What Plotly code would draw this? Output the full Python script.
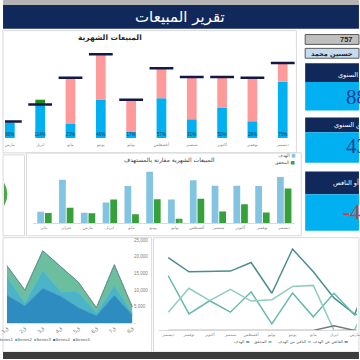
import plotly.graph_objects as go

# ---------------- data ----------------
months = ["يناير", "فبراير", "مارس", "ابريل", "مايو", "يونيو",
          "يوليو", "أغسطس", "سبتمبر", "أكتوبر", "نوفمبر", "ديسمبر"]
target = [2500, 9600, 2250, 4550, 8200, 11400, 5200, 9500, 8300, 8300, 8200, 10200]
actual = [2200, 3350, 2150, 5200, 1900, 5250, 900, 5400, 2550, 4150, 2300, 7650]

area_labels = ["ق1", "ق2", "ق3", "ق4", "ق5", "ق6", "ق7", "ق8"]
series1 = [8500, 5300, 10600, 8200, 4700, 2350, 8500, 2650]
series2 = [5600, 900, 5300, 1500, 4700, 900, 2900, 600]
series3 = [3200, 3800, 5900, 7350, 2950, 1450, 6200, 1750]
series4 = [0, 0, 0, 0, 0, 0, 0, 0]
series5 = [0, 0, 0, 0, 0, 0, 0, 0]
area_tickvals = [0, 5000, 10000, 15000, 20000, 25000]
area_ticktext = ["-", "5,000", "10,000", "15,000", "20,000", "25,000"]

employee_id = "757"
employee_name = "حسنين محمد"

# ---------------- helpers ----------------
W = H = 360
def X(px):
    return px / W
def Y(py):
    return 1 - py / H

AR = "DejaVu Sans"
NAVY = "#10295a"
BLUE = "#00b0f0"

base_blue = [min(a, t) for a, t in zip(actual, target)]
pink = [max(t - a, 0) for a, t in zip(actual, target)]
green_ex = [max(a - t, 0) for a, t in zip(actual, target)]
pct = [f"{round(a / t * 100)}%" for a, t in zip(actual, target)]
remaining = [max(t - a, 0) for a, t in zip(actual, target)]
surplus = [max(a - t, 0) for a, t in zip(actual, target)]

fig = go.Figure()

# ---- top chart: monthly sales stacked vs target ----
fig.add_trace(go.Bar(x=months, y=base_blue, base=[0] * 12, width=0.32,
                     marker=dict(color=BLUE, line=dict(width=0)),
                     xaxis="x", yaxis="y", showlegend=False, hoverinfo="skip"))
fig.add_trace(go.Bar(x=months, y=pink, base=base_blue, width=0.32,
                     marker=dict(color="#ff9a9a", line=dict(width=0)),
                     xaxis="x", yaxis="y", showlegend=False, hoverinfo="skip"))
fig.add_trace(go.Bar(x=months, y=green_ex, base=target, width=0.32,
                     marker=dict(color="#1e8a1e", line=dict(width=0)),
                     xaxis="x", yaxis="y", showlegend=False, hoverinfo="skip"))
fig.add_trace(go.Scatter(x=months, y=target, mode="markers",
                         marker=dict(symbol="line-ew", size=17,
                                     line=dict(width=2.5, color="#121a44")),
                         xaxis="x", yaxis="y", showlegend=False, hoverinfo="skip"))
fig.add_trace(go.Scatter(x=months, y=[470] * 12, mode="text", text=pct,
                         textfont=dict(size=4.5, color="#1f3864", family="Arial"),
                         xaxis="x", yaxis="y", showlegend=False, hoverinfo="skip"))

# ---- middle chart: grouped target vs actual ----
fig.add_trace(go.Bar(x=months, y=target, width=0.31, offset=-0.32,
                     marker=dict(color="#84c4e3", line=dict(width=0)),
                     text=[f"{v:,}" for v in target], textangle=-90,
                     textposition="inside", insidetextanchor="start",
                     textfont=dict(size=4, color="white"),
                     xaxis="x2", yaxis="y2", showlegend=False, hoverinfo="skip"))
fig.add_trace(go.Bar(x=months, y=actual, width=0.31, offset=0.03,
                     marker=dict(color="#36a03a", line=dict(width=0)),
                     text=[f"{v:,}" for v in actual], textangle=-90,
                     textposition="inside", insidetextanchor="start",
                     textfont=dict(size=4, color="white"),
                     xaxis="x2", yaxis="y2", showlegend=False, hoverinfo="skip"))

# ---- area chart ----
area_series = [("Series1", series1, "#2f8cc0"), ("Series2", series2, "#4bb4c6"),
               ("Series3", series3, "#6cbf9e"), ("Series4", series4, "#2f6f7f"),
               ("Series5", series5, "#7a8fa0")]
for name, vals, col in area_series:
    fig.add_trace(go.Scatter(x=area_labels, y=vals, mode="lines", stackgroup="a",
                             line=dict(width=0.6, color=col), fillcolor=col,
                             name=name, xaxis="x3", yaxis="y3",
                             showlegend=False, hoverinfo="skip"))

# ---- line chart ----
line_series = [("الهدف", target, "#4a8d92"), ("المحقق", actual, "#66b9ab"),
               ("الباقي من الهدف", remaining, "#8fcdbf"),
               ("الفائض عن الهدف", surplus, "#707a7a")]
for name, vals, col in line_series:
    fig.add_trace(go.Scatter(x=months, y=vals, mode="lines",
                             line=dict(width=1.5, color=col), name=name,
                             xaxis="x4", yaxis="y4", showlegend=False, hoverinfo="skip"))

tickfont = dict(size=4, color="#7f7f7f", family=AR)

fig.update_layout(
    width=W, height=H, margin=dict(l=0, r=0, t=0, b=0),
    paper_bgcolor="white", plot_bgcolor="rgba(0,0,0,0)",
    barmode="overlay", showlegend=False,
    xaxis=dict(domain=[0, X(298)], range=[1.84, 11.45], type="category",
               categoryarray=months, tickfont=tickfont, showgrid=False,
               zeroline=False, ticks="", anchor="y", ticklabelstandoff=3),
    yaxis=dict(domain=[Y(138), Y(40)], range=[0, 13130], visible=False, anchor="x"),
    xaxis2=dict(domain=[X(29), X(296.5)], range=[-0.5, 11.5], type="category",
                categoryarray=months, tickfont=tickfont, showgrid=False,
                zeroline=False, ticks="", anchor="y2", showline=True,
                linecolor="#d9d9d9", linewidth=1),
    yaxis2=dict(domain=[Y(224), Y(165)], range=[0, 12960], visible=False, anchor="x2"),
    xaxis3=dict(domain=[0, X(131)], range=[-0.11, 7.05], type="category",
                tickfont=dict(size=5, color="#7f7f7f", family=AR), tickangle=-45,
                showgrid=False, zeroline=False, ticks="", anchor="y3"),
    yaxis3=dict(domain=[Y(326), Y(241.5)], range=[0, 25000], side="right",
                tickvals=area_tickvals, ticktext=area_ticktext,
                tickfont=dict(size=4.5, color="#7f7f7f", family="Arial"),
                showgrid=False, zeroline=False, ticks="", anchor="x3"),
    xaxis4=dict(domain=[X(157), 1], range=[11.47, 1.89], type="category",
                categoryarray=months, tickfont=tickfont, showgrid=False,
                zeroline=False, ticks="", anchor="y4", showline=True,
                linecolor="#d9d9d9", linewidth=1),
    yaxis4=dict(domain=[Y(333), Y(243)], range=[0, 12430], visible=False, anchor="x4"),
)

shapes = []
def rect(x0, y0, x1, y1, fill=None, line=None, lw=1, layer="below"):
    shapes.append(dict(type="rect", xref="paper", yref="paper",
                       x0=X(x0), x1=X(x1), y0=Y(y1), y1=Y(y0),
                       fillcolor=fill if fill else "rgba(0,0,0,0)",
                       line=dict(color=line if line else "rgba(0,0,0,0)", width=lw if line else 0),
                       layer=layer))

# header
rect(-2, -2, 362, 3, fill="#b4b4b4")
rect(-2, 3, 362, 27, fill=NAVY)
# panels
rect(-2, 29, 298, 153, line="#d9d9d9")
rect(-2, 155, 20, 237, line="#d9d9d9")
rect(22, 153, 303, 237, line="#d9d9d9")
rect(-2, 239, 150, 355, line="#d9d9d9")
rect(152, 239, 362, 355, line="#d9d9d9")
# right cards
rect(307, 33, 362, 43, fill="#bfbfbf", line="#5a5a5a")
rect(307, 47, 362, 57, fill="#c5dcf0", line="#5a5a5a")
rect(307, 62, 362, 81, fill=NAVY)
rect(307, 81, 362, 110, fill=BLUE)
rect(307, 117, 362, 132, fill=NAVY)
rect(307, 132, 362, 163, fill=BLUE)
rect(307, 172, 362, 195, fill=NAVY)
rect(307, 195, 362, 232, fill=BLUE)
# bottom dark band
rect(-2, 355, 362, 362, fill="#3c3c3c")
# donut remnant (edge of a cut-off ring)
shapes.append(dict(type="path", xref="paper", yref="paper",
                   path=f"M {X(-1)},{Y(183)} Q {X(6)},{Y(195)} {X(-1)},{Y(207)} Z",
                   fillcolor="#4ea84a", line=dict(width=0), layer="below"))
fig.update_layout(shapes=shapes)

ann = []
def txt(x, y, s, size, color="#262626", anchor="center", bold=False, family=AR):
    ann.append(dict(x=X(x), y=Y(y), xref="paper", yref="paper", text=(f"<b>{s}</b>" if bold else s),
                    showarrow=False, xanchor=anchor, yanchor="middle",
                    font=dict(size=size, color=color, family=family)))

txt(179, 15, "تقرير المبيعات", 15, color="white")
txt(107, 36, "المبيعات الشهرية", 7.5, bold=True)
txt(168, 160, "المبيعات الشهرية مقارنة بالمستهدف", 6, color="#404040")
# mid legend
ann.append(dict(x=X(299), y=Y(156), xref="paper", yref="paper", showarrow=False, xanchor="right",
                text="الهدف <span style='color:#84c4e3'>■</span>",
                font=dict(size=4.5, color="#595959", family=AR)))
ann.append(dict(x=X(299), y=Y(163), xref="paper", yref="paper", showarrow=False, xanchor="right",
                text="المحقق <span style='color:#36a03a'>■</span>",
                font=dict(size=4.5, color="#595959", family=AR)))
# right cards
txt(358, 38, employee_id, 7.5, anchor="right", bold=True, family="Arial")
txt(358, 52.5, employee_name, 6.5, anchor="right", bold=True)
txt(339, 74, "المستهدف السنوي", 6.5, color="white", anchor="left")
txt(347, 96, f"{sum(target):,}", 21, color="#1c3f94", anchor="left", family="Liberation Sans Narrow")
txt(334, 125, "المحقق السنوي", 6.5, color="white", anchor="left")
txt(347, 146, f"{sum(actual):,}", 21, color="#1c3f94", anchor="left", family="Liberation Sans Narrow")
txt(333, 183, "الفائض أو الناقص", 6.5, color="white", anchor="left")
txt(344, 213, f"{sum(actual) - sum(target):,}", 21, color="#e8303a", anchor="left", family="Liberation Sans Narrow")
# area legend
for i, (name, vals, col) in enumerate(area_series):
    ann.append(dict(x=X(-11 + 19.5 * i), y=Y(347), xref="paper", yref="paper", showarrow=False,
                    xanchor="left", text=f"<span style='color:{col}'>■</span>{name}",
                    font=dict(size=4.2, color="#595959", family="Arial")))
# line legend
line_leg_x = [242, 264, 296, 333]
for (name, vals, col), cx in zip(line_series, line_leg_x):
    ann.append(dict(x=X(cx), y=Y(349), xref="paper", yref="paper", showarrow=False,
                    xanchor="center", text=f"{name} <span style='color:{col}'>▬</span>",
                    font=dict(size=4, color="#595959", family=AR)))
fig.update_layout(annotations=ann)

fig.write_html("out.html", config={"displayModeBar": False},
               post_script="document.body.style.margin='0';document.body.style.padding='0';")
